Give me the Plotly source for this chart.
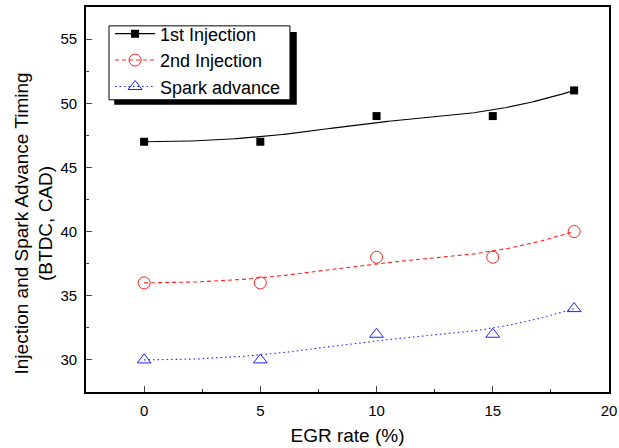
import numpy as np
import plotly.graph_objects as go

egr = [0, 5, 10, 15, 18.5]
first_inj = [47, 47, 49, 49, 51]
second_inj = [36, 36, 38, 38, 40]
spark_adv = [30, 30, 32, 32, 34]


def bspline(px, py, n=300, k=3):
    """Clamped uniform B-spline using the data points as control points."""
    px = np.asarray(px, float)
    py = np.asarray(py, float)
    m = len(px)
    inner = np.linspace(0, 1, m - k + 1)
    knots = np.concatenate([np.zeros(k), inner, np.ones(k)])
    ts = np.linspace(0, 1, n)

    def basis(i, d, t):
        if d == 0:
            if knots[i] <= t < knots[i + 1] or (t == 1.0 and knots[i] < knots[i + 1] == 1.0):
                return 1.0
            return 0.0
        a = 0.0
        if knots[i + d] != knots[i]:
            a = (t - knots[i]) / (knots[i + d] - knots[i]) * basis(i, d - 1, t)
        b = 0.0
        if knots[i + d + 1] != knots[i + 1]:
            b = (knots[i + d + 1] - t) / (knots[i + d + 1] - knots[i + 1]) * basis(i + 1, d - 1, t)
        return a + b

    B = np.array([[basis(i, k, t) for i in range(m)] for t in ts])
    return B @ px, B @ py


fig = go.Figure()
series = [
    ("1st Injection", first_inj, "black", "solid",
     dict(symbol="square", size=8, color="black")),
    ("2nd Injection", second_inj, "#ff2020", "4px,3px",
     dict(symbol="circle-open", size=12, color="#ff2020", line=dict(width=1))),
    ("Spark advance", spark_adv, "#2020ff", "1.5px,3px",
     dict(symbol="triangle-up-open", size=12, color="#2020ff", line=dict(width=1))),
]
for name, y, col, dash, mk in series:
    cx, cy = bspline(egr, y)
    fig.add_trace(go.Scatter(x=cx, y=cy, mode="lines", line=dict(color=col, width=1.1, dash=dash),
                             showlegend=False, hoverinfo="skip"))
    fig.add_trace(go.Scatter(x=egr, y=y, mode="markers", marker=mk, name=name, showlegend=False))
    fig.add_trace(go.Scatter(x=[None], y=[None], mode="lines+markers", name=name,
                             line=dict(color=col, width=1.1, dash=dash), marker=mk))

# legend box with shadow
fig.add_shape(type="rect", xref="paper", yref="paper", x0=0.054, x1=0.403, y0=0.746, y1=0.935,
              fillcolor="black", line=dict(width=0), layer="below")
fig.add_shape(type="rect", xref="paper", yref="paper", x0=0.044, x1=0.390, y0=0.759, y1=0.951,
              fillcolor="white", line=dict(width=1, color="black"), layer="below")

# y-axis title (placed slightly below the axis centre, as in the original)
fig.add_annotation(text="Injection and Spark Advance Timing<br>(BTDC, CAD)", textangle=-90,
                   xref="paper", yref="paper", x=-0.1004, y=0.439, xanchor="center",
                   yanchor="middle", showarrow=False, font=dict(size=19))

fig.update_layout(
    width=619, height=448,
    margin=dict(l=86, r=10, t=7, b=56),
    paper_bgcolor="white", plot_bgcolor="white",
    font=dict(family="Arial, Liberation Sans, sans-serif", size=15, color="black"),
    legend=dict(x=0.046, y=0.978, xanchor="left", yanchor="top", bgcolor="rgba(0,0,0,0)",
                borderwidth=0, font=dict(size=18), tracegroupgap=0, itemwidth=40,
                traceorder="normal"),
    xaxis=dict(range=[-2.5, 20], tickvals=[0, 5, 10, 15, 20], ticks="inside", ticklen=6,
               minor=dict(tickvals=[2.5, 7.5, 12.5, 17.5], ticks="inside", ticklen=3),
               showline=True, linecolor="black", linewidth=1.6, mirror=True, showgrid=False,
               zeroline=False, automargin=False, ticklabelstandoff=4,
               title=dict(text="EGR rate (%)", font=dict(size=19), standoff=11)),
    yaxis=dict(range=[27.5, 57.5], tickvals=[30, 35, 40, 45, 50, 55], ticks="inside", ticklen=6,
               minor=dict(tickvals=[32.5, 37.5, 42.5, 47.5, 52.5], ticks="inside", ticklen=3),
               showline=True, linecolor="black", linewidth=1.6, mirror=True, showgrid=False,
               zeroline=False, automargin=False, ticklabelstandoff=4),
)
fig.write_html("out.html", config={"displayModeBar": False},
               post_script="document.body.style.margin='0';document.body.style.overflow='hidden';")
